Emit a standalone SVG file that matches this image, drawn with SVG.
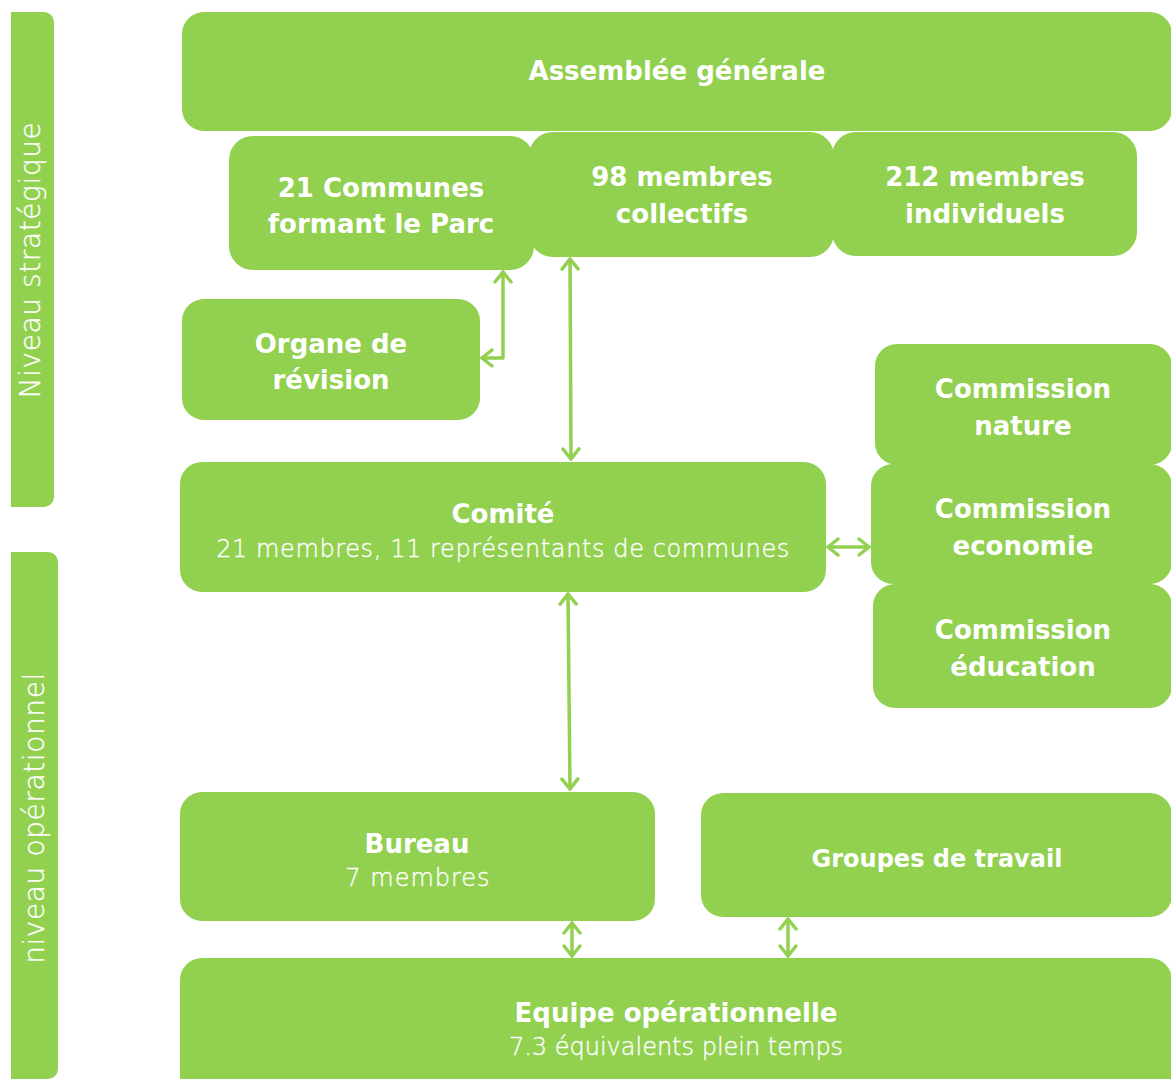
<svg xmlns="http://www.w3.org/2000/svg" width="1171" height="1079" viewBox="0 0 1171 1079">
<style>
.box{fill:#92D050}
.t{font-family:"DejaVu Sans","Liberation Sans",sans-serif;font-weight:bold;font-size:26px;fill:#fff;text-anchor:middle}
.s{font-family:"DejaVu Sans","Liberation Sans",sans-serif;font-weight:200;font-size:24px;fill:#fff;stroke:#fff;stroke-width:0.35;text-anchor:middle}
.v{font-family:"DejaVu Sans","Liberation Sans",sans-serif;font-weight:200;font-size:28px;letter-spacing:0.6px;fill:#fff;stroke:#fff;stroke-width:0.35;text-anchor:middle}
.c{fill:none;stroke:#92D050;stroke-width:3.5;stroke-linecap:round;stroke-linejoin:round}
</style>
<defs>
<marker id="ah" viewBox="-12 -10 14 20" markerWidth="14" markerHeight="20" refX="0" refY="0" orient="auto-start-reverse" markerUnits="userSpaceOnUse">
<path d="M-10,-8 L0,0 L-10,8" fill="none" stroke="#92D050" stroke-width="3.5" stroke-linecap="round" stroke-linejoin="round"/>
</marker>
</defs>
<rect width="1171" height="1079" fill="#fff"/>
<g id="niveau-strategique">
<path class="box" d="M11,12 H44 A10,10 0 0 1 54,22 V497 A10,10 0 0 1 44,507 H11 Z"/>
<text class="v" transform="translate(40,260) rotate(-90)">Niveau stratégique</text>
</g>
<g id="niveau-operationnel">
<path class="box" d="M11,552 H48 A10,10 0 0 1 58,562 V1069 A10,10 0 0 1 48,1079 H11 Z"/>
<text class="v" transform="translate(44,818) rotate(-90)">niveau opérationnel</text>
</g>
<g id="assemblee">
<rect class="box" x="182" y="12" width="990" height="119" rx="22"/>
<text class="t" x="677" y="80">Assemblée générale</text>
</g>
<g id="communes">
<rect class="box" x="229" y="136" width="305" height="134" rx="24"/>
<text class="t" x="381" y="197">21 Communes</text>
<text class="t" x="381" y="233">formant le Parc</text>
</g>
<g id="collectifs">
<rect class="box" x="529" y="132" width="305" height="125" rx="24"/>
<text class="t" x="682" y="186">98 membres</text>
<text class="t" x="682" y="223">collectifs</text>
</g>
<g id="individuels">
<rect class="box" x="832" y="132" width="305" height="124" rx="24"/>
<text class="t" x="985" y="186">212 membres</text>
<text class="t" x="985" y="223">individuels</text>
</g>
<g id="organe">
<rect class="box" x="182" y="299" width="298" height="121" rx="22"/>
<text class="t" x="331" y="353">Organe de</text>
<text class="t" x="331" y="389">révision</text>
</g>
<g id="commission-nature">
<rect class="box" x="875" y="344" width="297" height="121" rx="22"/>
<text class="t" x="1023" y="398">Commission</text>
<text class="t" x="1023" y="435">nature</text>
</g>
<g id="commission-economie">
<rect class="box" x="871" y="464" width="301" height="120" rx="22"/>
<text class="t" x="1023" y="518">Commission</text>
<text class="t" x="1023" y="555">economie</text>
</g>
<g id="commission-education">
<rect class="box" x="873" y="584" width="299" height="124" rx="22"/>
<text class="t" x="1023" y="639">Commission</text>
<text class="t" x="1023" y="676">éducation</text>
</g>
<g id="comite">
<rect class="box" x="180" y="462" width="646" height="130" rx="22"/>
<text class="t" x="503" y="523">Comité</text>
<text class="s" x="503" y="557" style="letter-spacing:0.6px">21 membres, 11 représentants de communes</text>
</g>
<g id="bureau">
<rect class="box" x="180" y="792" width="475" height="129" rx="22"/>
<text class="t" x="417" y="853">Bureau</text>
<text class="s" x="418" y="886" style="letter-spacing:1px">7 membres</text>
</g>
<g id="groupes">
<rect class="box" x="701" y="793" width="471" height="124" rx="22"/>
<text class="t" x="937" y="867" style="font-size:24px">Groupes de travail</text>
</g>
<g id="equipe">
<rect class="box" x="180" y="958" width="992" height="140" rx="22"/>
<text class="t" x="676" y="1022">Equipe opérationnelle</text>
<text class="s" x="676" y="1055">7.3 équivalents plein temps</text>
</g>
<g id="connectors">
<path class="c" d="M503,272 V358 H482" marker-start="url(#ah)" marker-end="url(#ah)"/>
<path class="c" d="M570,259 L571,459" marker-start="url(#ah)" marker-end="url(#ah)"/>
<path class="c" d="M828,547 H869" marker-start="url(#ah)" marker-end="url(#ah)"/>
<path class="c" d="M568,594 L570,789" marker-start="url(#ah)" marker-end="url(#ah)"/>
<path class="c" d="M572,923 V956" marker-start="url(#ah)" marker-end="url(#ah)"/>
<path class="c" d="M788,919 V956" marker-start="url(#ah)" marker-end="url(#ah)"/>
</g>
</svg>
